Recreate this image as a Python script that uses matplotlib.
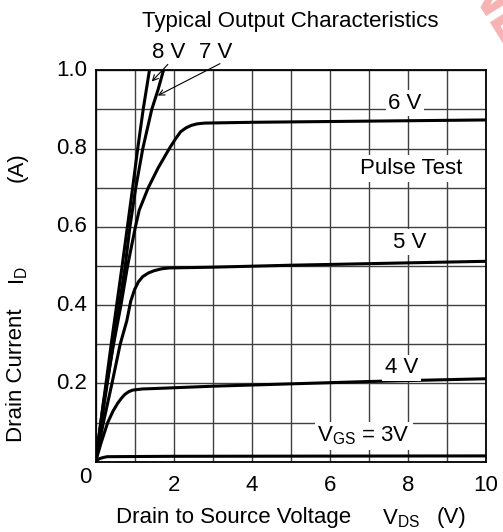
import numpy as np
import matplotlib
matplotlib.use("Agg")
import matplotlib.pyplot as plt

plt.rcParams['font.family'] = ['Liberation Sans', 'DejaVu Sans']

# curves: V_DS (V), I_D (A)
v8 = [0, 0.40, 0.68, 0.95, 1.08, 1.22, 1.38]
i8 = [0, 0.30, 0.50, 0.70, 0.80, 0.90, 1.00]

v7 = [0, 0.45, 0.76, 0.88, 1.03, 1.21, 1.44, 1.60, 1.74]
i7 = [0, 0.30, 0.50, 0.60, 0.70, 0.80, 0.90, 0.95, 1.00]

v6 = [0, 0.20, 0.46, 0.65, 0.82, 1.02, 1.12, 1.35, 1.60, 1.89, 2.05, 2.18, 2.32, 2.45, 2.60, 2.80, 4, 6, 8, 10]
i6 = [0, 0.15, 0.30, 0.40, 0.50, 0.60, 0.643, 0.70, 0.75, 0.80, 0.825, 0.843, 0.853, 0.859, 0.863, 0.865, 0.867, 0.869, 0.871, 0.873]

v5 = [0, 0.20, 0.42, 0.63, 0.80, 0.90, 1.00, 1.10, 1.21, 1.35, 1.50, 1.70, 1.89, 3, 5, 7, 10]
i5 = [0, 0.10, 0.20, 0.30, 0.36, 0.41, 0.44, 0.46, 0.473, 0.482, 0.488, 0.493, 0.495, 0.497, 0.502, 0.506, 0.512]

v4 = [0, 0.14, 0.31, 0.45, 0.57, 0.66, 0.75, 0.85, 0.95, 1.2, 1.5, 3, 5, 7, 10]
i4 = [0, 0.048, 0.10, 0.13, 0.15, 0.162, 0.172, 0.179, 0.183, 0.186, 0.187, 0.193, 0.199, 0.205, 0.212]

v3 = [0, 0.05, 0.10, 0.20, 0.30, 2, 10]
i3 = [0, 0.005, 0.008, 0.011, 0.013, 0.014, 0.015]

xticks = [2, 4, 6, 8, 10]
yticks = [0.2, 0.4, 0.6, 0.8, 1.0]

fig = plt.figure(figsize=(5.03, 5.32), dpi=100)
ax = fig.add_axes([0.190, 0.132, 0.776, 0.736])

for v, i in [(v8, i8), (v7, i7), (v6, i6), (v5, i5), (v4, i4), (v3, i3)]:
    ax.plot(v, i, color='black', lw=2.2, solid_capstyle='round', solid_joinstyle='round', zorder=3)

ax.set_xlim(0, 10)
ax.set_ylim(0, 1.0)
ax.set_xticks(np.arange(0, 11, 1))
ax.set_xticklabels([])
ax.set_yticks(np.arange(0, 1.01, 0.1))
ax.set_yticklabels([])
ax.grid(True, color='#404040', lw=1.0, zorder=1)
ax.tick_params(which='both', length=0)
for s in ax.spines.values():
    s.set_linewidth(1.3)
    s.set_zorder(4)

fs = 16
# tick labels
for t in xticks:
    ax.text(t, -0.06, str(t), ha='center', va='center', fontsize=fs)
ax.text(-0.27, -0.04, "0", ha='center', va='center', fontsize=fs)
for t in yticks:
    ax.text(-0.22, t, "%.1f" % t, ha='right', va='center', fontsize=fs)

box = dict(facecolor='white', edgecolor='none', pad=2)
ax.text(7.93, 0.916, "6 V", ha='center', va='center', fontsize=fs, bbox=box, zorder=5)
ax.text(8.08, 0.749, "Pulse Test", ha='center', va='center', fontsize=fs, bbox=box, zorder=5)
ax.text(8.06, 0.561, "5 V", ha='center', va='center', fontsize=fs, bbox=box, zorder=5)
ax.text(7.83, 0.240, "4 V", ha='center', va='center', fontsize=fs, bbox=box, zorder=5)
ax.text(6.87, 0.066, r"$\mathregular{V_{GS}}$ = 3V", ha='center', va='center', fontsize=fs, bbox=box, zorder=5)

ax.text(1.87, 1.046, "8 V", ha='center', va='center', fontsize=fs, clip_on=False)
ax.text(3.09, 1.046, "7 V", ha='center', va='center', fontsize=fs, clip_on=False)
ax.annotate('', xy=(1.39, 0.966), xytext=(1.90, 1.020),
            arrowprops=dict(arrowstyle='->', lw=0.8, color='black'), annotation_clip=False)
ax.annotate('', xy=(1.53, 0.932), xytext=(3.25, 1.020),
            arrowprops=dict(arrowstyle='->', lw=0.8, color='black'), annotation_clip=False)

fig.text(0.577, 1 - 21/532, "Typical Output Characteristics", ha='center', va='center', fontsize=fs)

# axis labels
fig.text(17/503, 1 - 375/532, "Drain Current", rotation=90, ha='center', va='center', fontsize=fs)
fig.text(19/503, 1 - 276/532, r"$\mathregular{I_D}$", rotation=90, ha='center', va='center', fontsize=fs)
fig.text(17/503, 1 - 167/532, "(A)", rotation=90, ha='center', va='center', fontsize=fs)

fig.text(234/503, 1 - 517/532, "Drain to Source Voltage", ha='center', va='center', fontsize=fs)
fig.text(401/503, 1 - 519/532, r"$\mathregular{V_{DS}}$", ha='center', va='center', fontsize=fs)
fig.text(452/503, 1 - 517/532, "(V)", ha='center', va='center', fontsize=fs)

# faint watermark in the corner
fig.text(1.02, 0.93, "NEW", rotation=-58, color='#f7b3b3', fontsize=44, fontweight='bold',
         ha='center', va='center', zorder=0)

fig.savefig("out.png", dpi=100)
